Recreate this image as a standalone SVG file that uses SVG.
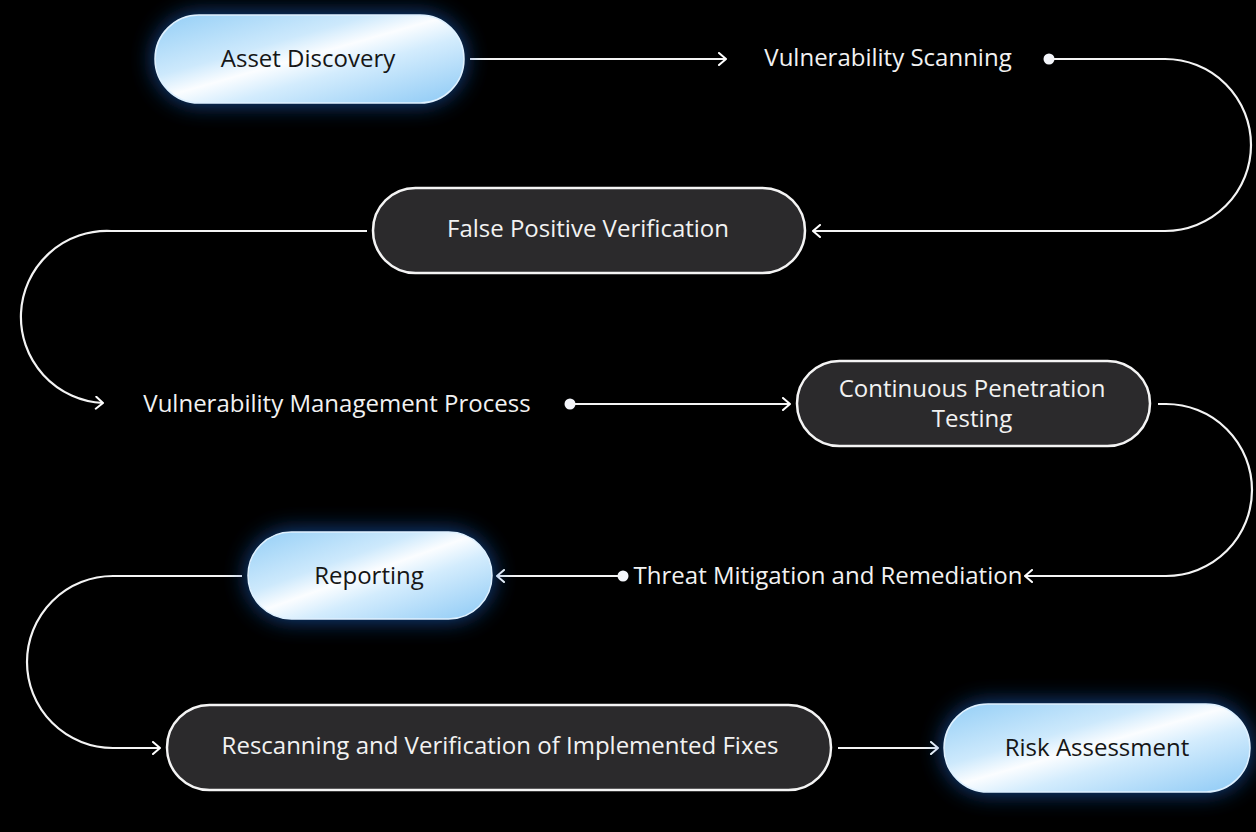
<svg xmlns="http://www.w3.org/2000/svg" width="1256" height="832" viewBox="0 0 1256 832">
<defs>
<linearGradient id="lg" x1="0" y1="0" x2="1" y2="1">
<stop offset="0" stop-color="#93cef6"/>
<stop offset="0.35" stop-color="#cde9fc"/>
<stop offset="0.48" stop-color="#fbfdff"/>
<stop offset="0.62" stop-color="#d3ecfd"/>
<stop offset="1" stop-color="#8cc9f5"/>
</linearGradient>
<filter id="glow" x="-30%" y="-60%" width="160%" height="220%">
<feGaussianBlur stdDeviation="12"/>
</filter>
<marker id="arr" viewBox="0 0 14 14" refX="12" refY="7" markerWidth="14" markerHeight="14" markerUnits="userSpaceOnUse" orient="auto">
<path d="M5,1 L12,7 L5,13" fill="none" stroke="#ffffff" stroke-width="2" stroke-linecap="round" stroke-linejoin="round"/>
</marker>
<style>
.lbl{font-family:"Open Sans","Liberation Sans",sans-serif;font-size:24px;text-anchor:middle;dominant-baseline:central}
.dark{fill:#161616}
.white{fill:#f2f2f2}
.pill-d{fill:#2b2a2c;stroke:#f4f4f4;stroke-width:2.5}
.pill-l{fill:url(#lg);stroke:#dff1ff;stroke-width:1.5}
.halo{fill:#1a64c4;opacity:0.8;filter:url(#glow)}
.con{fill:none;stroke:#f4f4f4;stroke-width:2.2}
.dot{fill:#f4f6fb}
</style>
</defs>
<rect width="1256" height="832" fill="#000000"/>

<g id="connectors">
<path class="con" d="M470,59 H726" marker-end="url(#arr)"/>
<circle class="dot" cx="1049" cy="59" r="5.5"/>
<path class="con" d="M1049,59 H1165 A86,86 0 0 1 1165,231 H813" marker-end="url(#arr)"/>
<path class="con" d="M367,231 H111 A86,86 0 0 0 103,403" marker-end="url(#arr)"/>
<circle class="dot" cx="570" cy="404" r="5.5"/>
<path class="con" d="M570,404 H790" marker-end="url(#arr)"/>
<path class="con" d="M1158,404 H1166 A86,86 0 0 1 1166,576 H1025" marker-end="url(#arr)"/>
<circle class="dot" cx="623" cy="576" r="5.5"/>
<path class="con" d="M623,576 H497" marker-end="url(#arr)"/>
<path class="con" d="M242,576 H113 A86,86 0 0 0 113,748 H160" marker-end="url(#arr)"/>
<path class="con" d="M838,748 H938" marker-end="url(#arr)"/>
</g>

<g id="n-asset-discovery">
<rect class="halo" x="155" y="15" width="309" height="88" rx="44"/>
<rect class="pill-l" x="155" y="15" width="309" height="88" rx="44"/>
<text class="lbl dark" x="308" y="57">Asset Discovery</text>
</g>

<g id="n-vulnerability-scanning">
<text class="lbl white" x="888" y="56">Vulnerability Scanning</text>
</g>

<g id="n-false-positive">
<rect class="pill-d" x="373" y="188" width="432" height="85" rx="42.5"/>
<text class="lbl white" x="588" y="227">False Positive Verification</text>
</g>

<g id="n-vm-process">
<text class="lbl white" x="337" y="402">Vulnerability Management Process</text>
</g>

<g id="n-pen-testing">
<rect class="pill-d" x="797" y="361" width="353" height="85" rx="42.5"/>
<text class="lbl white" x="972" y="387">Continuous Penetration</text>
<text class="lbl white" x="972" y="417">Testing</text>
</g>

<g id="n-threat-mitigation">
<text class="lbl white" x="828" y="574">Threat Mitigation and Remediation</text>
</g>

<g id="n-reporting">
<rect class="halo" x="248" y="532" width="244" height="87" rx="43.5"/>
<rect class="pill-l" x="248" y="532" width="244" height="87" rx="43.5"/>
<text class="lbl dark" x="369" y="574">Reporting</text>
</g>

<g id="n-rescanning">
<rect class="pill-d" x="167" y="705" width="664" height="85" rx="42.5"/>
<text class="lbl white" x="500" y="744">Rescanning and Verification of Implemented Fixes</text>
</g>

<g id="n-risk-assessment">
<rect class="halo" x="944" y="704" width="306" height="88" rx="44"/>
<rect class="pill-l" x="944" y="704" width="306" height="88" rx="44"/>
<text class="lbl dark" x="1097" y="746">Risk Assessment</text>
</g>
</svg>
